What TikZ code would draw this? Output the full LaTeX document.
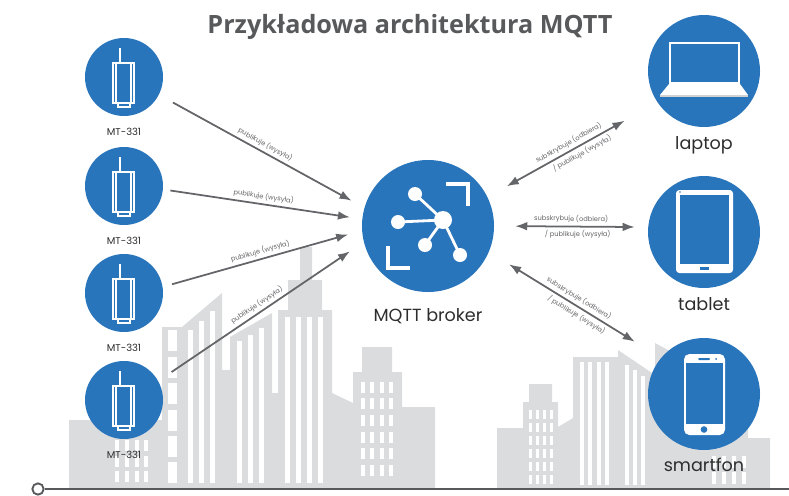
\documentclass[tikz,border=0pt]{standalone}
\usepackage{fontspec}
\setmainfont{Poppins}
\newfontfamily\titlefont{Open Sans}
\usetikzlibrary{arrows.meta, positioning}
\definecolor{mqblue}{RGB}{41,117,188}
\definecolor{city}{RGB}{219,220,222}
\definecolor{arr}{RGB}{100,101,104}
\definecolor{txt}{RGB}{45,45,45}
\definecolor{ground}{RGB}{88,89,91}

\begin{document}
\begin{tikzpicture}[x=0.03cm, y=-0.03cm,
    dev/.style={circle, fill=mqblue, minimum size=2.34cm, inner sep=0pt},
    broker/.style={circle, fill=mqblue, minimum size=3.96cm, inner sep=0pt},
    client/.style={circle, fill=mqblue, minimum size=3.36cm, inner sep=0pt},
    lbl/.style={text=txt, font=\fontsize{15}{17}\selectfont},
    devlbl/.style={text=txt, font=\fontsize{8.5}{10}\selectfont},
    arrlbl/.style={text=arr, font=\fontsize{5.7}{7}\selectfont, sloped, inner sep=2.5pt},
    pub/.style={-{Latex[length=3.6mm, width=2.6mm]}, arr, line width=1.5pt},
    sub/.style={{Latex[length=3.6mm, width=2.6mm]}-{Latex[length=3.6mm, width=2.6mm]}, arr, line width=1.5pt},
    icon/.style={draw=white, line width=1.2pt}
]

\useasboundingbox (0,0) rectangle (789,495);

% city in the background
\fill[city] (69,420) rectangle (165,489);
\fill[city] (162,327) rectangle (183,489);
\fill[city] (182,489) -- (182,327) -- (222,293) -- (222,370) -- (230,370) -- (230,337)
    -- (272,313) -- (272,393) -- (278,393) -- (278,310) -- (288,310) -- (288,280)
    -- (300,280) -- (300,247) -- (312,247) -- (312,280) -- (322,280) -- (322,310)
    -- (332,310) -- (332,393) -- (353,403) -- (353,372) -- (362,372) -- (362,347)
    -- (392,347) -- (392,372) -- (402,372) -- (402,407) -- (435,407) -- (435,489) -- cycle;
\fill[city] (497,489) -- (497,428) -- (523,428) -- (523,402) -- (529,402) -- (529,384)
    -- (552,384) -- (552,402) -- (558,402) -- (558,427) -- (573,418) -- (573,357)
    -- (618,357) -- (618,350) -- (655,375) -- (655,343) -- (690,362) -- (690,420)
    -- (748,420) -- (748,438) -- (770,438) -- (770,489) -- cycle;

% windows and stripes
\foreach \y in {330,357,383,410,436,462}
    \fill[white] (168,\y) rectangle ++(9,21);
\foreach \x in {115,125,135,144}
    \foreach \y in {440,456,471}
        \fill[white] (\x,\y) rectangle ++(4,11);
\foreach \x in {188,199,210}
    \fill[white] (\x,{335-(\x-182)*0.85}) rectangle (\x+5,483);
\foreach \x in {237,248,259}
    \fill[white] (\x,{345-(\x-230)*0.57}) rectangle (\x+5,483);
\foreach \x in {285,296,307,318}
    \fill[white] (\x,317) rectangle (\x+5,483);
\foreach \x in {361,370,380,389}
    \foreach \y in {382,398,415,432,448,465}
        \fill[white] (\x,\y) rectangle ++(4,11);
\foreach \x in {529,536,543,550}
    \foreach \y in {410,423,436,449,462,475}
        \fill[white] (\x,\y) rectangle ++(3,9);
\foreach \x in {580,588,597,605}
    \fill[white] (\x,362) rectangle (\x+4,485);
\foreach \x in {625,633,641}
    \fill[white] (\x,{360+(\x-618)*0.68}) rectangle (\x+4,485);
\foreach \x in {712,722,732,742}
    \foreach \y in {456,472}
        \fill[white] (\x,\y) rectangle ++(4,12);

% title
\node[text=ground, font=\titlefont\bfseries\fontsize{21.5}{25}\selectfont] (title) at (410,27) {Przykładowa architektura MQTT};

% sensors
\foreach \n/\y in {m1/77, m2/186, m3/293, m4/400}{
    \node[dev] (\n) at (124,\y) {};
    \node[devlbl, below=2.2mm of \n] {MT-331};
    \begin{scope}[shift={(\n)}, icon]
        \draw (-4,-29) -- (-4,-14);
        \draw (-11,-14) rectangle (10,26);
        \draw (-8,-14) -- (-8,26) (7,-14) -- (7,26);
        \draw (-6,26) rectangle (6,30);
    \end{scope}
}

% broker
\node[broker] (B) at (428,226) {};
\node[lbl, below=3.6mm of B] {MQTT broker};
\begin{scope}[shift={(B)}, white]
    \draw[line width=2.4pt] (15,-6) -- (-13,-32) (15,-6) -- (-30,-4)
        (15,-6) -- (-3,19) (15,-6) -- (32,29);
    \fill (15,-6) circle (9) (-13,-32) circle (7) (-30,-4) circle (7)
        (-3,19) circle (7) (32,29) circle (7);
    \draw[line width=4pt] (18,-42) -- (40,-42) -- (40,-20);
    \draw[line width=4pt] (-40,20) -- (-40,42) -- (-18,42);
\end{scope}

% clients
\node[client] (L) at (704,71) {};
\node[lbl, below=1.6mm of L] {laptop};
\begin{scope}[shift={(L)}]
    \draw[white, line width=2pt] (-34,-28) rectangle (35,12);
    \fill[white] (-35,13) -- (36,13) -- (44,24) -- (-44,24) -- cycle;
    \fill[gray!35] (-44,24) rectangle (44,26);
\end{scope}

\node[client] (T) at (704,232) {};
\node[lbl, below=1.4mm of T] {tablet};
\begin{scope}[shift={(T)}]
    \fill[white, rounded corners=1mm] (-28,-42) rectangle (29,41);
    \fill[mqblue] (-24,-37) rectangle (25,32);
    \fill[mqblue] (-4,35) rectangle (5,37.5);
    \fill[mqblue] (-24,-40) circle (0.8);
\end{scope}

\node[client] (P) at (704,394) {};
\node[lbl, below=1mm of P] {smartfon};
\begin{scope}[shift={(P)}]
    \fill[white, rounded corners=1.6mm] (-20,-40) rectangle (21,41);
    \fill[mqblue] (-18,-31) rectangle (19,30);
    \fill[mqblue, rounded corners=0.3mm] (-6,-36) rectangle (6,-34);
    \fill[mqblue] (12,-35) circle (1);
    \fill[mqblue] (0,35.5) circle (3.3);
\end{scope}

% Arrows
\draw[pub, shorten <=0.48cm, shorten >=0.44cm] (m1.-27) -- node[arrlbl, above]{publikuje (wysyła)} (B.164.9);
\draw[pub, shorten <=0.22cm, shorten >=0.37cm] (m2.-5) -- node[arrlbl, above]{publikuje (wysyła)} (B.174.1);
\draw[pub, shorten <=0.29cm, shorten >=0.43cm] (m3.9.5) -- node[arrlbl, above]{publikuje (wysyła)} (B.184.3);
\draw[pub, shorten <=0.48cm, shorten >=0.5cm] (m4.29.4) -- node[arrlbl, above]{publikuje (wysyła)} (B.194.7);

\draw[sub, shorten <=0.66cm, shorten >=1.13cm] (B.26.3) -- node[arrlbl, above]{subskrybuje (odbiera)}
    node[arrlbl, below, xshift=2mm]{/ publikuje (wysyła)} (L.214.5);
\draw[sub, shorten <=0.63cm, shorten >=0.4cm] (B.0) -- node[arrlbl, above]{subskrybuje (odbiera)}
    node[arrlbl, below, xshift=2mm]{/ publikuje (wysyła)} (T.175);
\draw[sub, shorten <=0.71cm, shorten >=0.92cm] (B.-23.7) -- node[arrlbl, above]{subskrybuje (odbiera)}
    node[arrlbl, below, xshift=2mm]{/ publikuje (wysyła)} (P.140.3);

% ground line
\node[circle, draw=ground, fill=white, line width=1.6pt, minimum size=0.34cm, inner sep=0pt] (o) at (38,489) {};
\coordinate (e) at (789,489);
\draw[ground, line width=2.4pt] (o) -- (e);

\end{tikzpicture}
\end{document}
